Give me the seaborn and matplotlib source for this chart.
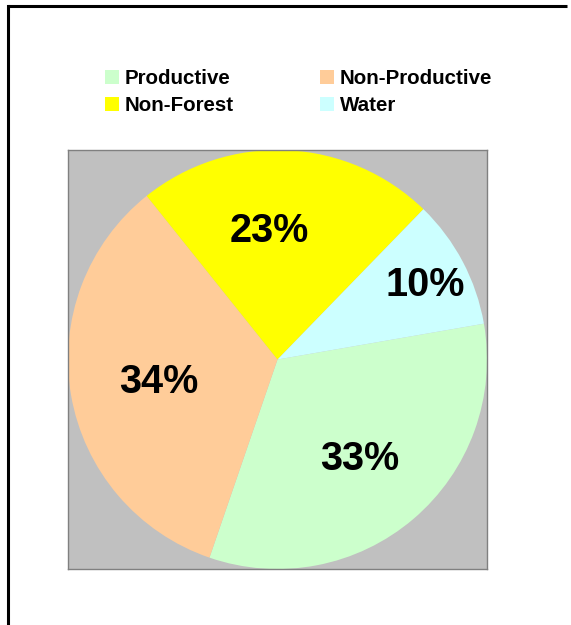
import numpy as np
import matplotlib
matplotlib.use("Agg")
import matplotlib.pyplot as plt
import matplotlib.transforms as mtransforms
from matplotlib.patches import Rectangle
from matplotlib.lines import Line2D
import seaborn as sns

# Land-use shares (percent)
categories = ["Productive", "Non-Productive", "Non-Forest", "Water"]
shares = [33, 34, 23, 10]
colors = ["#CCFFCC", "#FFCC99", "#FFFF00", "#CCFFFF"]

sns.set_style("white")
plt.rcParams["font.family"] = ["Liberation Sans", "DejaVu Sans"]
plt.rcParams["font.weight"] = "bold"

W, H = 571, 625
fig = plt.figure(figsize=(W / 100, H / 100), dpi=100)
fig.patch.set_facecolor("white")

# outer chart frame (left and top edges visible)
fig.add_artist(Line2D([7.5 / W, 7.5 / W], [0, 1 - 5.5 / H], color="black", lw=2.2,
                      transform=fig.transFigure, solid_capstyle="projecting"))
fig.add_artist(Line2D([7.5 / W, 567 / W], [1 - 5.5 / H, 1 - 5.5 / H], color="black", lw=2.2,
                      transform=fig.transFigure, solid_capstyle="butt"))

# plot area
left, top, size = 68, 150, 419
ax = fig.add_axes([left / W, 1 - (top + size) / H, size / W, size / H])

start = 9.85
wedges, _ = ax.pie(shares, colors=colors, startangle=start, counterclock=False,
                   radius=1.0, frame=True,
                   wedgeprops=dict(linewidth=0, antialiased=True))
ax.set_frame_on(True)
ax.patch.set_visible(True)
ax.set_facecolor("#C0C0C0")
for sp in ax.spines.values():
    sp.set_visible(True)
    sp.set_color("#808080")
    sp.set_linewidth(1.0)
ax.set_xlim(-1, 1)
ax.set_ylim(-1, 1)
ax.set_aspect("equal")
ax.set_xticks([])
ax.set_yticks([])

# percentage labels
label_fs = 28.5
label_radius = [0.605, 0.574, 0.632, 0.796]
label_nudge = [0.0, -0.6, 6.4, 0.1]
txt_tr = mtransforms.offset_copy(ax.transData, fig=fig, y=-0.358 * label_fs, units="points")
total = sum(shares)
for w, v, r, dn in zip(wedges, shares, label_radius, label_nudge):
    mid = np.deg2rad((w.theta1 + w.theta2) / 2 + dn)
    ax.text(r * np.cos(mid), r * np.sin(mid), f"{v / total * 100:.0f}%",
            ha="center", va="baseline", fontsize=label_fs, fontweight="bold",
            color="black", transform=txt_tr)

# legend: two columns, two rows
leg_fs = 14.8
col_x = [105, 320]
row_y = [77, 104]
order = [(0, 0), (1, 0), (0, 1), (1, 1)]  # (column, row) for each category
for cat, col, (c, r) in zip(categories, colors, order):
    x0, yc = col_x[c], row_y[r]
    fig.add_artist(Rectangle((x0 / W, 1 - (yc + 7) / H), 14 / W, 14 / H,
                             transform=fig.transFigure, facecolor=col, edgecolor="none"))
    fig.text((x0 + 20) / W, 1 - (yc + 7) / H, cat, ha="left", va="baseline",
             fontsize=leg_fs, fontweight="bold", color="black")

fig.savefig("out.png", dpi=100, facecolor="white")
